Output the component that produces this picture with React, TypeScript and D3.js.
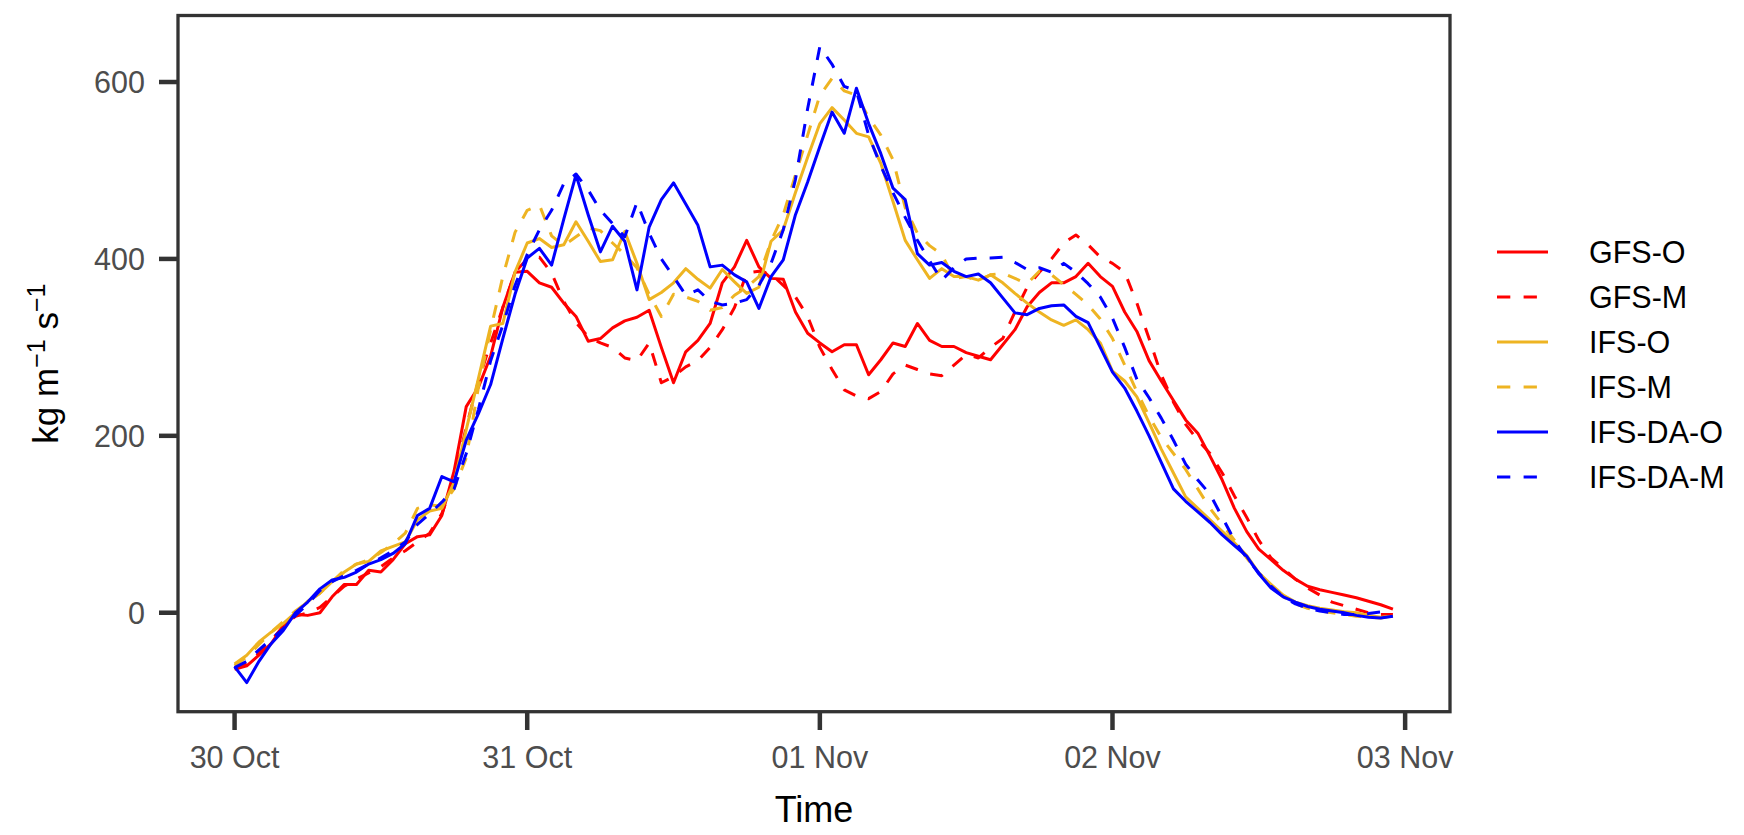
import * as d3 from 'd3';

// hourly values from 30 Oct 00:00 (96 steps)
const gfsO = [
  -64, -60, -48, -35, -15, -2, -3, 0, 18, 32, 32, 48, 46, 60, 78, 86, 88, 110, 160, 233, 255, 290, 345, 385,
  386, 373, 368, 350, 335, 307, 310, 322, 330, 334, 342, 300, 260, 295, 308, 327, 373, 391, 421, 391, 378, 377, 340, 316,
  305, 295, 303, 303, 269, 286, 305, 301, 327, 308, 301, 301, 294, 290, 286, 303, 320, 346, 362, 373, 373, 380, 395, 380,
  369, 340, 318, 285, 262, 240, 218, 203, 177, 150, 118, 92, 72, 60, 48, 38, 30, 26, 23, 20, 17, 13, 9, 4,
];
const gfsM = [
  -63, -58, -46, -32, -15, -4, 0, 6, 18, 30, 38, 45, 52, 62, 70, 80, 90, 112, 150, 210, 262, 305, 345, 385,
  400, 402, 384, 352, 328, 312, 305, 300, 288, 285, 305, 260, 267, 278, 285, 300, 320, 345, 384, 386, 383, 370, 357, 335,
  300, 275, 252, 245, 242, 250, 270, 280, 275, 270, 268, 280, 292, 288, 300, 310, 340, 368, 385, 400, 418, 427, 416, 402,
  395, 385, 350, 310, 269, 238, 213, 195, 180, 158, 132, 108, 82, 62, 50, 38, 28, 20, 12, 8, 4, 0, -2, -2,
];
const ifsO = [
  -58, -48, -33, -22, -12, 0, 13, 22, 35, 46, 55, 58, 70, 75, 80, 105, 115, 118, 147, 207, 265, 324, 327, 385,
  418, 423, 413, 416, 442, 420, 397, 399, 431, 395, 354, 362, 373, 389, 377, 367, 388, 374, 361, 368, 420, 433, 475, 515,
  553, 571, 557, 542, 538, 508, 465, 421, 399, 378, 389, 380, 380, 376, 382, 373, 361, 350, 340, 331, 325, 331, 320, 305,
  273, 262, 244, 215, 185, 158, 131, 118, 105, 92, 79, 65, 45, 32, 20, 12, 8, 5, 3, 1, 0, -3, -5, -4,
];
const ifsM = [
  -60, -50, -36, -22, -10, 2, 12, 22, 35, 48, 55, 60, 68, 78, 90, 118, 122, 120, 140, 175, 255, 320, 380, 430,
  455, 461, 426, 415, 425, 435, 432, 418, 405, 390, 360, 335, 360, 357, 352, 342, 345, 359, 368, 380, 420, 450, 495, 540,
  585, 604, 590, 585, 560, 540, 512, 458, 429, 415, 405, 378, 380, 375, 382, 384, 378, 372, 386, 382, 371, 360, 348, 332,
  310, 280, 250, 222, 198, 180, 162, 140, 118, 100, 82, 62, 45, 30, 18, 10, 5, 2, 0, -2, -4, -5, -6, -3,
];
const ifsDaO = [
  -61, -79, -55, -35, -20, 0, 12, 27, 37, 40, 46, 55, 60, 67, 78, 110, 118, 154, 148, 195, 225, 258, 310, 360,
  401, 412, 393, 445, 495, 450, 408, 437, 420, 365, 436, 467, 486, 462, 438, 391, 393, 382, 374, 344, 380, 399, 450, 487,
  527, 566, 542, 593, 553, 519, 480, 467, 406, 393, 396, 386, 380, 383, 373, 356, 339, 337, 344, 347, 348, 335, 328, 300,
  272, 254, 228, 200, 170, 140, 126, 114, 102, 88, 76, 64, 44, 28, 18, 12, 7, 4, 2, 0, -3, -5, -6, -4,
];
const ifsDaM = [
  -62, -55, -42, -30, -18, -3, 10, 25, 35, 42, 48, 55, 62, 70, 80, 100, 112, 125, 140, 180, 230, 285, 325, 370,
  405, 433, 455, 485, 496, 478, 455, 440, 425, 464, 429, 400, 380, 359, 365, 352, 348, 350, 354, 370, 395, 433, 490, 570,
  640, 620, 595, 590, 540, 505, 475, 447, 421, 398, 376, 390, 400, 401, 401, 402, 396, 388, 390, 385, 395, 385, 372, 357,
  333, 300, 264, 243, 220, 195, 168, 150, 134, 108, 82, 62, 45, 30, 18, 10, 5, 2, 0, -2, -2, -1, 1, 2,
];

const seriesNames = ['GFS-O', 'GFS-M', 'IFS-O', 'IFS-M', 'IFS-DA-O', 'IFS-DA-M'];
const seriesValues = [gfsO, gfsM, ifsO, ifsM, ifsDaO, ifsDaM];
const seriesColors = ['#FF0000', '#FF0000', '#EEB422', '#EEB422', '#0000FF', '#0000FF'];
const seriesDashed = [false, true, false, true, false, true];

const yTicks = [0, 200, 400, 600];

const W = 1744;
const H = 835;
const HOUR = 3600 * 1000;
const start = Date.UTC(2023, 9, 30);

const panel = { left: 178, right: 1450, top: 15.5, bottom: 711.7 };

const x = d3
  .scaleUtc()
  .domain([new Date(start - 4.64 * HOUR), new Date(start + 99.68 * HOUR)])
  .range([panel.left, panel.right]);
const y = d3.scaleLinear().domain([-111.9, 675.2]).range([panel.bottom, panel.top]);

const xTicks = d3.utcDay.range(new Date(start), new Date(start + 97 * HOUR));
const fmt = d3.utcFormat('%d %b');

const line = d3
  .line<number>()
  .x((_, i) => x(new Date(start + i * HOUR)))
  .y((d) => y(d));

const font = "'Liberation Sans', Arial, sans-serif";
const ink = '#333333';
const small = 30.5;

export default function App() {
  return (
    <div style={{ position: 'absolute', left: 0, top: 0 }}>
      <svg width={W} height={H} style={{ display: 'block', background: '#fff' }} fontFamily={font}>
        {/* series */}
        {seriesValues.map((vals, k) => (
          <path
            key={seriesNames[k]}
            d={line(vals) ?? ''}
            fill="none"
            stroke={seriesColors[k]}
            strokeWidth={3}
            strokeLinejoin="round"
            strokeDasharray={seriesDashed[k] ? '13 13' : undefined}
          />
        ))}

        {/* panel border */}
        <rect
          x={panel.left}
          y={panel.top}
          width={panel.right - panel.left}
          height={panel.bottom - panel.top}
          fill="none"
          stroke={ink}
          strokeWidth={3.3}
        />

        {/* y axis */}
        {yTicks.map((t) => (
          <g key={t}>
            <line x1={159} x2={panel.left} y1={y(t)} y2={y(t)} stroke={ink} strokeWidth={4.5} />
            <text x={145} y={y(t)} dy="0.36em" textAnchor="end" fontSize={small} fill="#4D4D4D">
              {t}
            </text>
          </g>
        ))}

        {/* x axis */}
        {xTicks.map((d) => (
          <g key={+d}>
            <line x1={x(d)} x2={x(d)} y1={panel.bottom} y2={730} stroke={ink} strokeWidth={4.5} />
            <text x={x(d)} y={768} textAnchor="middle" fontSize={small} fill="#4D4D4D">
              {fmt(d)}
            </text>
          </g>
        ))}

        {/* axis titles */}
        <text x={(panel.left + panel.right) / 2} y={822} textAnchor="middle" fontSize={36} fill="#000">
          Time
        </text>
        <text
          transform={`translate(58, ${(panel.top + panel.bottom) / 2}) rotate(-90)`}
          textAnchor="middle"
          fontSize={35}
          fill="#000"
        >
          kg m
          <tspan dy={-13} fontSize={25}>
            −1
          </tspan>
          <tspan dy={13}> s</tspan>
          <tspan dy={-13} fontSize={25}>
            −1
          </tspan>
        </text>

        {/* legend */}
        {seriesNames.map((name, k) => {
          const ly = 252 + k * 45;
          return (
            <g key={name}>
              <line
                x1={1497}
                x2={1548}
                y1={ly}
                y2={ly}
                stroke={seriesColors[k]}
                strokeWidth={3.2}
                strokeDasharray={seriesDashed[k] ? '13.3 13.3' : undefined}
              />
              <text x={1589} y={ly} dy="0.36em" fontSize={small} fill="#000">
                {name}
              </text>
            </g>
          );
        })}
      </svg>
    </div>
  );
}
